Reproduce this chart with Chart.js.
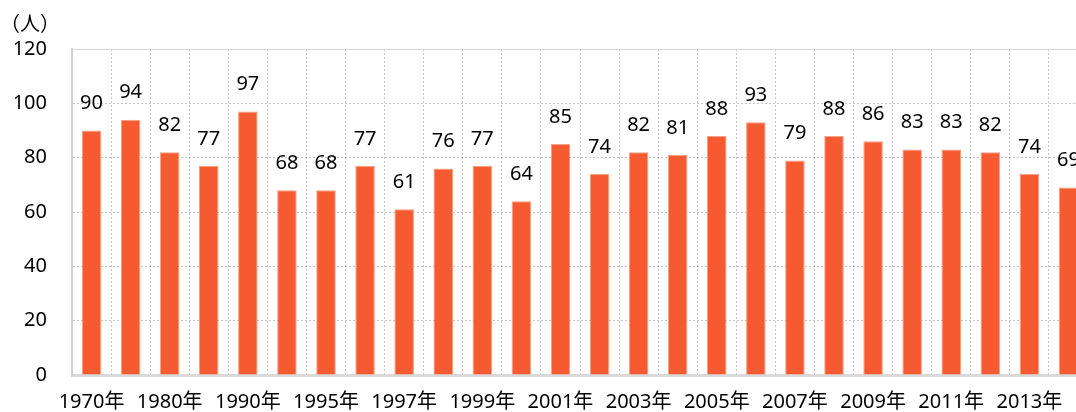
<!DOCTYPE html>
<html>
<head>
<meta charset="utf-8">
<script src="https://cdn.jsdelivr.net/npm/chart.js@4"></script>
<style>
  html, body { margin: 0; padding: 0; overflow: hidden; background: #fff; }
  #wrap { position: relative; width: 1076px; height: 412px; overflow: hidden; }
  #unit { position: absolute; left: 0; top: 13px; font: 20px/20px "Noto Sans CJK JP", sans-serif; color: #000; }
  canvas { position: absolute; left: 0; top: 0; }
</style>
</head>
<body>
<div id="wrap">
  <canvas id="chart" width="1094" height="412"></canvas>
  <div id="unit">（人）</div>
</div>
<script>
// chart data
const years = ['1970年','1975年','1980年','1985年','1990年','1994年','1995年','1996年','1997年','1998年','1999年','2000年','2001年',
               '2002年','2003年','2004年','2005年','2006年','2007年','2008年','2009年','2010年','2011年','2012年','2013年','2014年'];
const people = [90,94,82,77,97,68,68,77,61,76,77,64,85,74,82,81,88,93,79,88,86,83,83,82,74,69];
const yTicks = [0,20,40,60,80,100,120];

const FONT = "'Noto Sans', 'Noto Sans CJK JP', sans-serif";

// value labels above each bar
const barLabels = {
  id: 'barLabels',
  afterDatasetsDraw(chart) {
    const ctx = chart.ctx;
    const meta = chart.getDatasetMeta(0);
    ctx.save();
    ctx.font = '20px ' + FONT;
    ctx.fillStyle = '#000';
    ctx.textAlign = 'center';
    ctx.textBaseline = 'middle';
    meta.data.forEach((bar, i) => {
      ctx.fillText(people[i], bar.x, bar.y - 27);
    });
    ctx.restore();
  }
};

new Chart(document.getElementById('chart').getContext('2d'), {
  type: 'bar',
  data: {
    labels: years,
    datasets: [{
      data: people,
      backgroundColor: '#F55A30',
      borderColor: '#F8A083',
      borderWidth: 1,
      categoryPercentage: 0.5,
      barPercentage: 1
    }]
  },
  options: {
    responsive: false,
    animation: false,
    layout: { padding: { top: 49, right: 6, left: 0, bottom: 0 } },
    plugins: { legend: { display: false }, tooltip: { enabled: false } },
    scales: {
      x: {
        grid: { color: '#c4c4c4', lineWidth: 1, drawTicks: false },
        border: { display: true, color: '#d9d9d9', width: 3, dash: [2, 2] },
        ticks: {
          autoSkip: false, maxRotation: 0, padding: 15, color: '#000',
          font: { size: 20, family: FONT },
          callback: (v, i) => (i % 2 === 0 ? years[i] : '')
        },
        afterFit: (s) => { s.height = 36; }
      },
      y: {
        min: 0, max: 120,
        afterBuildTicks: (s) => { s.ticks = yTicks.map(v => ({ value: v })); },
        grid: {
          drawTicks: false, lineWidth: 1,
          color: (c) => (c.tick && c.tick.value === 0 ? 'rgba(0,0,0,0)' : (c.tick && c.tick.value === 120 ? '#d6d6d6' : '#c4c4c4'))
        },
        border: {
          display: true, color: '#cfcfcf', width: 2,
          dash: (c) => (c.tick && c.tick.value === 120 ? [] : [2, 2])
        },
        ticks: { padding: 25, color: '#000', font: { size: 20, family: FONT } },
        afterFit: (s) => { s.width = 72; }
      }
    }
  },
  plugins: [barLabels]
});
</script>
</body>
</html>
